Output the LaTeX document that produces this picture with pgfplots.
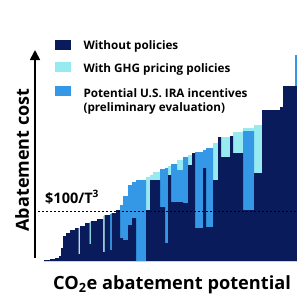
\documentclass[border=0pt]{standalone}
\usepackage{pgfplots}
\usepackage{pgfplotstable}
\pgfplotsset{compat=1.18}
\usetikzlibrary{arrows.meta}
\usepackage{fontspec}
\setmainfont{Open Sans}
\definecolor{navyc}{RGB}{9,27,90}
\definecolor{cyanc}{RGB}{150,234,240}
\definecolor{bluec}{RGB}{52,152,230}
\definecolor{txt}{RGB}{25,25,25}
\pgfplotstableread{
x n c b
44 1 0 0
50 2 0 0
55 3 0 0
59 5 0 0
61 13 0 0
63 25 0 0
66 28 0 0
70 31 0 0
75 33 0 0
78.5 7 33 0
80 35 0 0
85 38 0 0
89.5 17 39 0
90.8 40 0 0
97 42 0 0
103 9 45 0
104.5 46 0 0
110 11 0 47
111.5 48 0 0
116 51 0 0
120 23 0 56
123 21 0 65
128 36 0 76
132 43 0 79
136 0 0 81
146 51 84 0
150 81 86 0
153 81 89 0
160 54 0 92
165 18 0 93
168 86 95 0
171 59 0 97
177 59 101 91
183 58 0 104
188 96 106 0
192 108 0 0
195 33 0 109
203 93 0 111
206 34 0 113
213 81 118 0
218 124 0 0
221 104 124 0
230 125 0 0
233 108 129 0
243 51 133 130
254 88 136 0
262 151 0 0
280 154 0 0
283 175 0 0
295 175 0 206
297 175 0 206
}\segs
\begin{document}
\begin{tikzpicture}
\useasboundingbox (0,0) rectangle (297pt,301pt);
\clip (0,0) rectangle (297pt,301pt);
\begin{axis}[
  at={(0,0)}, anchor=south west,
  width=297pt, height=301pt, scale only axis,
  xmin=0, xmax=297, ymin=-40, ymax=261,
  hide axis, clip=false,
  font=\color{txt},
]
\addplot[const plot, fill=cyanc, draw=none] table[x=x,y=c]{\segs} \closedcycle;
\addplot[const plot, fill=bluec, draw=none] table[x=x,y=b]{\segs} \closedcycle;
\addplot[const plot, fill=navyc, draw=none] table[x=x,y=n]{\segs} \closedcycle;
\addplot[black, line width=0.7pt, dash pattern=on 2pt off 2pt] coordinates {(38,50) (297,50)};
\draw[black, line width=1.7pt, -{Triangle[width=10pt,length=10pt]}] (axis cs:35,3) -- (axis cs:35,211);
\fill[navyc] (axis cs:55,211) rectangle (axis cs:71,221);
\fill[cyanc] (axis cs:55,189) rectangle (axis cs:71,199);
\fill[bluec] (axis cs:55,165) rectangle (axis cs:71,175);
\node[anchor=west, font=\fontsize{11.7}{14}\selectfont\bfseries] at (axis cs:80,215) {Without policies};
\node[anchor=west, font=\fontsize{11.7}{14}\selectfont\bfseries] at (axis cs:80,192) {With GHG pricing policies};
\node[anchor=west, font=\fontsize{11.7}{14}\selectfont\bfseries] at (axis cs:80,168) {Potential U.S. IRA incentives};
\node[anchor=west, font=\fontsize{11.7}{14}\selectfont\bfseries] at (axis cs:80,153) {(preliminary evaluation)};
\node[rotate=90, font=\fontsize{18}{20}\selectfont\bfseries] at (axis cs:22,101) {Abatement cost};
\node[anchor=base west, inner sep=0pt, font=\fontsize{18.2}{22}\selectfont\bfseries] at (axis cs:53,-28) {CO\textsubscript{2}e abatement potential};
\node[anchor=base west, inner sep=0pt, font=\fontsize{14.5}{16}\selectfont\bfseries] at (axis cs:45,58) {\$100/T\textsuperscript{3}};
\end{axis}
\end{tikzpicture}
\end{document}
